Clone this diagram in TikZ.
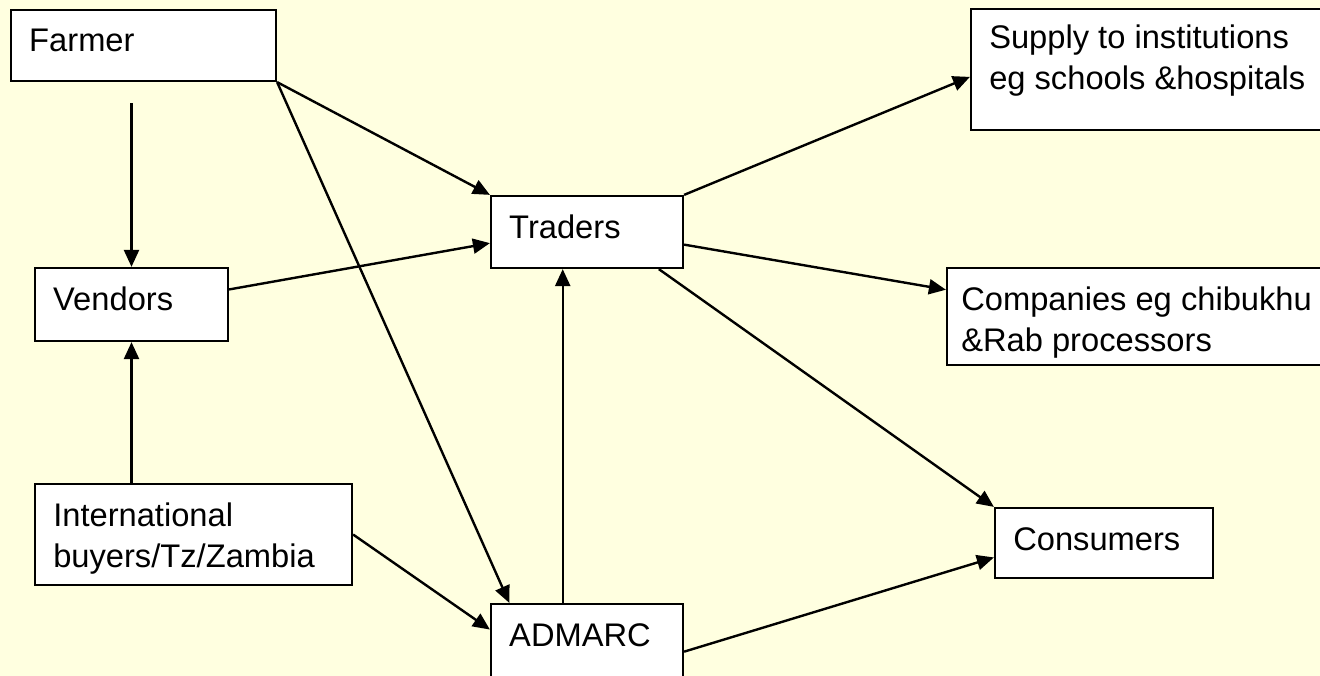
\documentclass[tikz,border=0pt]{standalone}
\usepackage{fontspec}
\setmainfont{Liberation Sans}
\usetikzlibrary{calc,arrows.meta}
\definecolor{paleyellow}{RGB}{255,255,224}
\def\pt(#1)(#2)(#3){($(#1)!#3!(#2)$)}

\begin{document}
\begin{tikzpicture}[x=0.02cm, y=-0.02cm,
		box/.style={draw=black, fill=white, line width=0.045cm, inner sep=0pt},
		txt/.style={anchor=north west, inner xsep=0.38cm, inner ysep=0.4cm, align=left,
			font=\fontsize{18.6pt}{23pt}\selectfont},
		arr/.style={line width=0.048cm, -{Triangle[length=0.34cm, width=0.3cm]}}]
		%%%%% START %%%%%
		
		\useasboundingbox (0, 0) rectangle (1320, 676);
		\clip (0, 0) rectangle (1320, 676);
		\fill[paleyellow] (0, 0) rectangle (1320, 676);
		
		\node[box, minimum width=5.3cm, minimum height=1.42cm,
			label={[txt, name=farmer-t]north west:Farmer}] (farmer) at (143.5, 45.5) {};
		\node[box, minimum width=3.86cm, minimum height=1.46cm,
			label={[txt, name=vendors-t]north west:Vendors}] (vendors) at (131.5, 304.5) {};
		\node[box, minimum width=6.34cm, minimum height=2.02cm,
			label={[txt, name=intl-t]north west:International\\buyers/Tz/Zambia}] (intl) at (193.5, 534.5) {};
		
		\node[box, minimum width=3.84cm, minimum height=1.44cm,
			label={[txt, name=traders-t]north west:Traders}] (traders) at (587, 232) {};
		\node[box, minimum width=3.84cm, minimum height=1.48cm,
			label={[txt, name=admarc-t]north west:ADMARC}] (admarc) at (587, 641) {};
		
		\node[box, minimum width=7.38cm, minimum height=2.42cm,
			label={[txt, name=supply-t, inner ysep=0.34cm]north west:Supply to institutions\\eg schools \&hospitals}] (supply) at (1155.5, 69.5) {};
		\node[box, minimum width=7.86cm, minimum height=1.94cm,
			label={[txt, name=companies-t, inner xsep=0.3cm]north west:Companies eg chibukhu\\\&Rab processors}] (companies) at (1143.5, 316.5) {};
		\node[box, minimum width=4.36cm, minimum height=1.4cm,
			label={[txt, name=consumers-t]north west:Consumers}] (consumers) at (1104, 543) {};
		
		% farmer
		\draw[arr, shorten <=0.42cm] (vendors.north |- farmer.south) -- (vendors.north);
		\draw[arr] (farmer.south east) -- (traders.north west);
		\draw[arr] (farmer.south east) -- \pt(admarc.north west)(admarc.north east)(0.1);
		
		% vendors, international
		\draw[arr] \pt(vendors.north east)(vendors.south east)(0.3) -- \pt(traders.north west)(traders.south west)(0.65);
		\draw[arr] (vendors.south |- intl.north) -- (vendors.south);
		\draw[arr] (intl.east) -- \pt(admarc.north west)(admarc.south west)(0.35);
		
		% admarc
		\draw[arr] \pt(admarc.north west)(admarc.north east)(0.375) -- \pt(traders.south west)(traders.south east)(0.375);
		\draw[arr] \pt(admarc.north east)(admarc.south east)(0.64) -- \pt(consumers.north west)(consumers.south west)(0.7);
		
		% traders
		\draw[arr] (traders.north east) -- \pt(supply.north west)(supply.south west)(0.56);
		\draw[arr] \pt(traders.north east)(traders.south east)(0.67) -- \pt(companies.north west)(companies.south west)(0.23);
		\draw[arr] \pt(traders.south west)(traders.south east)(0.87) -- (consumers.north west);
		
		%%%%% END %%%%%
	\end{tikzpicture}
\end{document}
